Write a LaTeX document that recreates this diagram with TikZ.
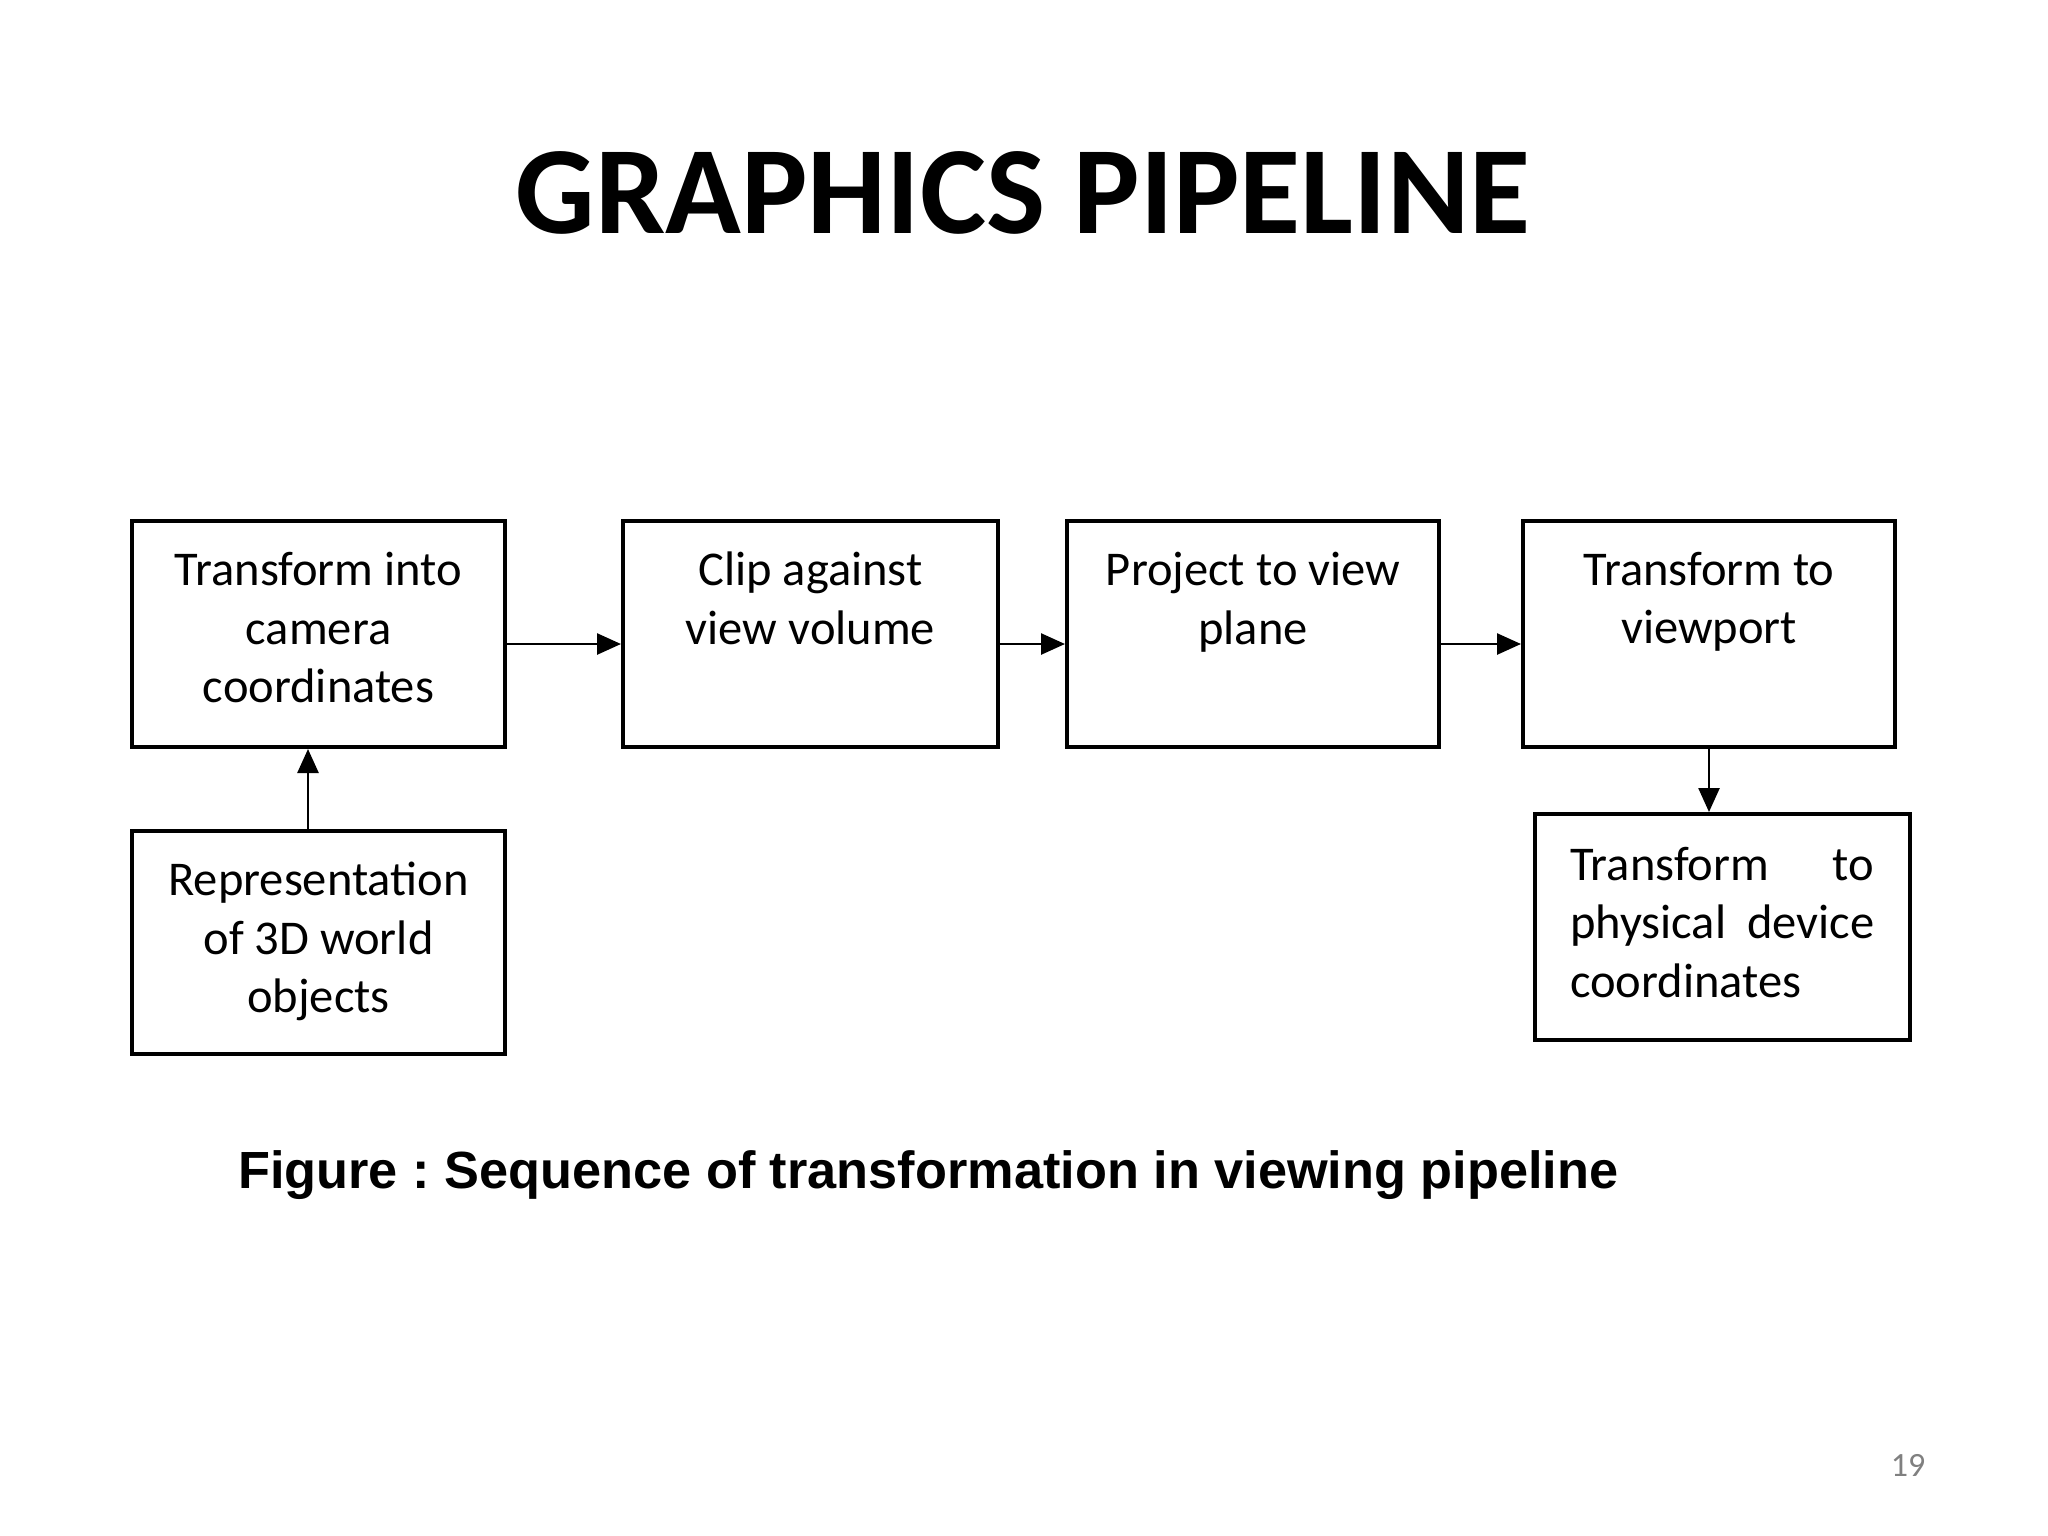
\documentclass[tikz,border=0pt]{standalone}
\usepackage{fontspec}
\setmainfont{Carlito}
\newfontfamily\capfont{Liberation Sans}
\usetikzlibrary{arrows.meta}
\frenchspacing
\tikzset{
  box/.style={draw=black, line width=4pt, inner sep=0pt, minimum width=#1},
  box/.default=373pt,
  boxtext/.style={inner sep=0pt, anchor=north, align=center, font=\fontsize{48.5}{58.5}\selectfont},
  arr/.style={line width=2.6pt, -{Triangle[length=24pt,width=21pt]}},
}
\begin{document}
\begin{tikzpicture}[x=1pt,y=-1pt]
\useasboundingbox[fill=white] (0,0) rectangle (2048,1536);
% title
\node[inner sep=0pt, font=\fontsize{125}{125}\selectfont\bfseries] (title) at (1023,193) {GRAPHICS PIPELINE};
% boxes
\node[box, minimum height=226pt] (b1) at (318.5,634) {};
\node[box=375pt, minimum height=226pt] (b2) at (810.5,634) {};
\node[box=372pt, minimum height=226pt] (b3) at (1253,634) {};
\node[box=372pt, minimum height=226pt] (b4) at (1709,634) {};
\node[box, minimum height=223pt] (b5) at (318.5,942.5) {};
\node[box=375pt, minimum height=226pt] (b6) at (1722.5,927) {};
% texts
\node[boxtext] (t1) at (318.5,552) {Transform into\\camera\\coordinates};
\node[boxtext] (t2) at (810.5,552) {Clip against\\view volume};
\node[boxtext] (t3) at (1253,552) {Project to view\\plane};
\node[boxtext] (t4) at (1709,552) {Transform to\\viewport};
\node[boxtext] (t5) at (318.5,862) {Representation\\of 3D world\\objects};
\node[boxtext, align=left, text width=304pt, anchor=north west] (t6) at (1570,847)
  {\makebox[304pt][l]{Transform\hfill to}\\\makebox[304pt][l]{physical\hfill device}\\coordinates};
% connectors
\draw[arr] (b1.east |- 0,644) -- (b2.west |- 0,644);
\draw[arr] (b2.east |- 0,644) -- (b3.west |- 0,644);
\draw[arr] (b3.east |- 0,644) -- (b4.west |- 0,644);
\draw[arr] (b5.north -| 308,0) -- (b1.south -| 308,0);
\draw[arr] (b4.south |- 0,747) -- (b4.south |- b6.north);
% caption
\node[inner sep=0pt, anchor=west, font=\capfont\bfseries\fontsize{52.3}{52.3}\selectfont] (cap) at (238,1175) {Figure : Sequence of transformation in viewing pipeline};
% page number
\node[inner sep=0pt, text=black!50, font=\fontsize{34}{34}\selectfont] (pg) at (1908,1465) {19};
\end{tikzpicture}
\end{document}
